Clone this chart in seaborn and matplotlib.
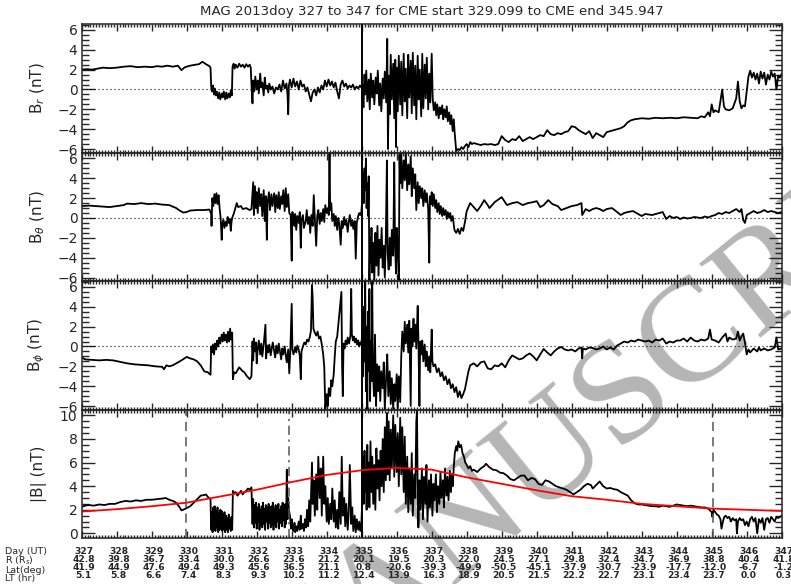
import matplotlib
matplotlib.use("Agg")
import matplotlib.pyplot as plt
import matplotlib.transforms as mtransforms
from matplotlib.ticker import MultipleLocator
import pandas as pd
import seaborn as sns

# ---------------------------------------------------------------- data
title = "MAG 2013doy 327 to 347 for CME start 329.099 to CME end 345.947"

# ephemeris rows printed under the time axis
tick_days = list(range(327, 348))
r_rs = [42.8, 39.8, 36.7, 33.4, 30.0, 26.6, 23.6, 21.2, 20.1, 19.5, 20.3,
        22.0, 24.5, 27.1, 29.8, 32.4, 34.7, 36.9, 38.8, 40.4, 41.8]
lat_deg = [41.9, 44.9, 47.6, 49.4, 49.3, 45.6, 36.5, 21.1, 0.8, -20.6, -39.3,
           -49.9, -50.5, -45.1, -37.9, -30.7, -23.9, -17.7, -12.0, -6.7, -1.2]
lt_hr = [5.1, 5.8, 6.6, 7.4, 8.3, 9.3, 10.2, 11.2, 12.4, 13.9, 16.3,
         18.9, 20.5, 21.5, 22.2, 22.7, 23.1, 23.4, 23.7, 0.0, 0.3]
row_names = ["Day (UT)", r"R (R$_s$)", "Lat(deg)", "LT (hr)"]

# event markers (day of year)
gap_day = 335.0
dashed_days = [329.97, 345.03]
dashdot_day = 332.93

# B_r (nT)
br_points = [
    (327.00, 2.0), (327.15, 2.05), (327.30, 2.0), (327.45, 2.1), (327.60, 2.2), (327.80, 2.15),
    (328.00, 2.2), (328.20, 2.3), (328.40, 2.35), (328.60, 2.25), (328.80, 2.3), (329.00, 2.25),
    (329.15, 2.35), (329.30, 2.3), (329.45, 2.4), (329.60, 2.3), (329.75, 2.4), (329.85, 1.95),
    (329.95, 2.25), (330.10, 2.4), (330.25, 2.5), (330.35, 2.55), (330.45, 2.8), (330.55, 2.55),
    (330.65, 2.35), (330.68, 2.2),
    (330.70, 0.3), (330.72, -0.2), (330.75, 0.4), (330.78, -0.5), (330.80, 0.1), (330.83, -0.6),
    (330.86, -0.2), (330.90, -0.9), (330.93, -0.3), (330.96, -1.0), (331.00, -0.4), (331.03, -0.8),
    (331.06, -0.2), (331.10, -1.0), (331.13, -0.3), (331.16, -0.9), (331.20, -0.4), (331.23, -0.8),
    (331.26, -0.1), (331.29, -0.6),
    (331.31, 2.3), (331.34, 2.6), (331.37, 2.1), (331.40, 2.5), (331.45, 2.2), (331.50, 2.6),
    (331.55, 2.3), (331.60, 2.5), (331.65, 2.2), (331.70, 2.55), (331.75, 2.3), (331.80, 2.5),
    (331.83, 2.2),
    (331.86, -0.3), (331.88, -1.4), (331.90, 0.9), (331.93, -0.2), (331.96, 1.3), (332.00, 0.0),
    (332.03, 0.9), (332.06, -0.4), (332.10, 1.6), (332.13, 0.2), (332.16, 0.7), (332.20, -0.6),
    (332.23, 1.2), (332.26, 0.1), (332.30, 0.4), (332.33, -0.3), (332.36, 0.6), (332.40, 0.0),
    (332.45, 0.3), (332.50, -0.4), (332.55, 0.2), (332.60, 0.0), (332.65, 0.5), (332.70, -0.2),
    (332.75, 0.9), (332.80, 0.1), (332.85, 0.6), (332.88, -0.5), (332.90, -2.5), (332.92, 0.4),
    (332.95, 1.0), (333.00, 0.2), (333.05, 1.1), (333.10, 0.3), (333.15, 0.8), (333.20, 0.0),
    (333.25, 0.9), (333.30, 0.3), (333.35, 0.5), (333.40, -0.2), (333.45, 0.2), (333.50, -0.5),
    (333.55, -1.2), (333.60, -0.3), (333.65, 0.0), (333.70, -0.6), (333.75, 0.2), (333.80, -0.3),
    (333.85, 0.4), (333.90, 0.0), (333.95, 0.9), (334.00, 0.3), (334.05, 1.0), (334.10, 0.4),
    (334.15, 0.8), (334.20, 0.2), (334.25, 0.7), (334.30, -0.2), (334.35, -0.9), (334.40, 0.5),
    (334.45, 0.9), (334.50, 0.3), (334.55, 0.6), (334.60, 0.1), (334.65, 0.4), (334.70, 0.2),
    (334.75, 0.5), (334.80, 0.0), (334.85, 0.3), (334.90, 0.1), (334.95, 0.4), (334.99, 0.2),
    (335.02, 0.5), (335.05, -1.8), (335.08, 1.5), (335.10, -0.5), (335.13, 1.9), (335.16, -1.2),
    (335.20, 1.0), (335.23, -2.0), (335.26, 1.6), (335.30, -0.8), (335.33, 0.9), (335.36, -1.5),
    (335.40, 1.2), (335.43, -0.4), (335.46, 1.9), (335.50, -1.6), (335.53, 0.6), (335.56, -2.2),
    (335.60, 1.1), (335.63, -0.9), (335.66, 1.8), (335.70, -1.3), (335.73, 5.1), (335.75, -6.0),
    (335.78, 1.4), (335.80, -2.5), (335.83, 3.5), (335.86, -1.0), (335.90, 2.6), (335.93, -2.9),
    (335.96, 3.0), (335.98, -5.8), (336.00, 2.2), (336.03, -2.2), (336.06, 3.4), (336.10, -1.5),
    (336.13, 2.8), (336.16, -2.6), (336.20, 3.6), (336.23, -1.2), (336.26, 2.1), (336.30, -2.9),
    (336.33, 3.5), (336.36, -0.8), (336.40, 2.9), (336.43, -2.4), (336.46, 3.7), (336.50, -1.6),
    (336.53, 2.4), (336.56, -3.0), (336.60, 3.4), (336.63, -1.0), (336.66, 2.0), (336.70, -2.7),
    (336.73, 3.6), (336.76, -1.9), (336.80, 2.5), (336.83, -0.9), (336.86, 3.2), (336.90, -2.0),
    (336.93, 1.6), (336.96, -1.3), (337.00, 3.6), (337.03, -1.0), (337.06, -2.1),
    (337.10, -1.3), (337.13, -2.6), (337.16, -1.5), (337.20, -2.9), (337.23, -1.8), (337.26, -2.5),
    (337.30, -1.6), (337.33, -3.0), (337.36, -2.0), (337.40, -2.8), (337.43, -1.7), (337.46, -3.2),
    (337.50, -2.3), (337.53, -3.5), (337.56, -2.6), (337.60, -4.2), (337.63, -3.0), (337.66, -4.5),
    (337.70, -6.2), (337.75, -6.0), (337.80, -6.1), (337.85, -5.8), (337.90, -6.0), (337.95, -5.7),
    (338.00, -5.5), (338.05, -5.8), (338.10, -5.3), (338.15, -5.5), (338.20, -5.4), (338.30, -5.5),
    (338.40, -5.6), (338.50, -5.5), (338.60, -5.55), (338.70, -5.5), (338.80, -5.6), (338.90, -5.5),
    (339.00, -4.7), (339.10, -5.1), (339.20, -5.3), (339.30, -5.0), (339.40, -5.1), (339.50, -4.7),
    (339.60, -5.2), (339.70, -5.0), (339.80, -4.8), (339.90, -5.0), (340.00, -4.8), (340.10, -4.6),
    (340.20, -4.7), (340.30, -4.1), (340.40, -4.5), (340.50, -4.6), (340.60, -4.4), (340.70, -4.5),
    (340.80, -4.3), (340.90, -4.2), (341.00, -3.7), (341.10, -3.8), (341.20, -4.1), (341.30, -4.3),
    (341.40, -4.5), (341.50, -4.2), (341.60, -4.9), (341.70, -4.4), (341.80, -4.6), (341.90, -4.8),
    (342.00, -4.3), (342.10, -4.2), (342.20, -4.1), (342.30, -4.0), (342.40, -3.9), (342.50, -3.7),
    (342.60, -3.3), (342.70, -3.1), (342.80, -3.0), (342.90, -2.95), (343.00, -2.9), (343.20, -2.95),
    (343.40, -2.85), (343.60, -2.9), (343.80, -2.85), (344.00, -2.9), (344.20, -2.8), (344.40, -2.85),
    (344.60, -2.9), (344.70, -2.7), (344.80, -2.8), (344.90, -2.3), (344.95, -2.7), (345.00, -1.5),
    (345.05, -2.3), (345.10, -2.1), (345.20, -2.3), (345.30, 0.0), (345.35, -1.7), (345.40, -2.0),
    (345.50, -2.1), (345.60, -1.9), (345.70, -0.9), (345.75, 0.8), (345.80, -1.2), (345.85, -1.9),
    (345.90, -1.6), (345.95, -1.7), (346.00, -0.2), (346.05, 1.3), (346.10, 1.9), (346.15, 1.2),
    (346.20, 1.7), (346.25, 1.0), (346.30, 1.6), (346.35, 0.6), (346.40, 1.8), (346.45, 1.1),
    (346.50, 1.7), (346.55, 0.5), (346.60, 1.5), (346.65, 1.0), (346.70, 1.8), (346.75, 1.3),
    (346.80, 1.6), (346.85, 0.0), (346.90, 1.4), (346.95, 1.2), (347.00, 1.6),
]

# B_theta (nT)
bt_points = [
    (327.00, 1.2), (327.20, 1.25), (327.40, 1.2), (327.60, 1.15), (327.80, 1.1), (328.00, 1.2),
    (328.20, 1.3), (328.30, 1.45), (328.50, 1.4), (328.70, 1.5), (328.90, 1.4), (329.10, 1.45),
    (329.30, 1.35), (329.50, 1.3), (329.70, 1.0), (329.80, 0.75), (329.90, 0.55), (330.00, 0.6),
    (330.10, 0.75), (330.30, 0.8), (330.50, 0.8), (330.65, 0.85),
    (330.70, 0.4), (330.71, -0.8), (330.73, 2.0), (330.76, 1.2), (330.79, 2.4), (330.82, 1.5),
    (330.85, 2.5), (330.88, 1.4), (330.91, 2.3), (330.94, 1.0), (330.97, 0.0), (331.00, -2.2),
    (331.02, -0.6), (331.05, -0.2), (331.08, -1.0), (331.11, -0.4), (331.14, -0.8), (331.17, 0.1),
    (331.20, -0.5), (331.23, -0.1), (331.26, -1.3), (331.28, -0.4), (331.30, 0.0), (331.35, 0.5),
    (331.43, 1.5), (331.47, 1.1), (331.55, 1.2), (331.60, 0.9), (331.70, 1.0), (331.80, 0.8),
    (331.85, 0.9),
    (331.90, 3.6), (331.92, 0.3), (331.95, 3.2), (331.98, 1.0), (332.00, 2.6), (332.03, 0.5),
    (332.06, 3.0), (332.10, 1.2), (332.13, 2.4), (332.16, 0.2), (332.20, 2.8), (332.23, -0.3),
    (332.26, 2.2), (332.29, -2.2), (332.31, 1.5), (332.35, 2.6), (332.38, 0.8), (332.42, 2.4),
    (332.45, 1.2), (332.50, 2.5), (332.53, 0.6), (332.56, 2.3), (332.60, 1.0), (332.63, 2.6),
    (332.66, 0.9), (332.70, 2.2), (332.73, 1.4), (332.76, 2.8), (332.80, 0.7), (332.83, 3.0),
    (332.86, 1.1), (332.90, 2.4), (332.93, 0.5), (332.97, 0.3), (333.00, -4.3), (333.02, 0.6),
    (333.05, 0.0), (333.08, -0.8), (333.10, 0.4), (333.13, -1.2), (333.16, 0.2), (333.20, -0.5),
    (333.23, 0.6), (333.26, -3.0), (333.28, -0.2), (333.32, 0.3), (333.35, -1.0), (333.40, -0.3),
    (333.43, 0.8), (333.46, -0.6), (333.50, 0.1), (333.53, -1.5), (333.56, 0.3), (333.60, -0.8),
    (333.63, 2.3), (333.66, 0.0), (333.70, -2.8), (333.73, 0.2), (333.76, 0.8), (333.80, -0.6),
    (333.83, 0.5), (333.86, -0.3), (333.90, 0.9), (333.93, -0.4), (333.96, 1.3), (334.00, 0.5),
    (334.03, 1.0), (334.06, 0.3), (334.08, 6.5), (334.10, 0.8), (334.13, 1.5), (334.16, -0.3),
    (334.20, 0.4), (334.23, -0.8), (334.26, 0.2), (334.30, -1.2), (334.33, 0.0), (334.36, -0.6),
    (334.40, -2.7), (334.43, -0.3), (334.46, -1.0), (334.50, 0.1), (334.53, -0.7), (334.56, -0.2),
    (334.60, -1.4), (334.63, -0.4), (334.66, 0.3), (334.70, -0.8), (334.73, -0.2), (334.76, -1.1),
    (334.80, -0.3), (334.83, -4.1), (334.86, -0.5), (334.90, 0.2), (334.93, 0.5), (334.96, 0.3),
    (334.99, 0.6),
    (335.02, 2.0), (335.04, 4.5), (335.06, 1.5), (335.08, 5.0), (335.10, 2.8), (335.12, 6.0),
    (335.14, 1.0), (335.16, 3.5), (335.18, 0.2), (335.20, 4.2), (335.22, -6.5), (335.24, -2.0),
    (335.26, -4.5), (335.28, -1.0), (335.30, -5.5), (335.33, -2.5), (335.36, -6.2), (335.39, -1.5),
    (335.42, -4.8), (335.45, -0.8), (335.48, -5.8), (335.51, -2.2), (335.54, -4.0), (335.57, -1.0),
    (335.60, -5.0), (335.63, -2.8), (335.66, -6.0), (335.69, -1.8), (335.72, 5.8), (335.74, -3.5),
    (335.77, -5.2), (335.80, -2.0), (335.83, -4.8), (335.86, -1.2), (335.90, -3.8), (335.93, 5.6),
    (335.95, -2.2), (335.98, -5.6), (336.00, -1.0), (336.03, -3.0), (336.06, -6.5), (336.08, 6.4),
    (336.10, 3.5), (336.13, 6.5), (336.16, 3.0), (336.20, 5.8), (336.23, 3.8), (336.26, 6.5),
    (336.30, 2.8), (336.33, 5.4), (336.36, 3.4), (336.40, 6.2), (336.43, 2.2), (336.46, 5.0),
    (336.50, 3.0), (336.53, 4.4), (336.56, 0.8), (336.60, 3.6), (336.63, 1.5), (336.66, 3.2),
    (336.70, 2.0), (336.73, 3.0), (336.76, 1.2), (336.80, 2.8), (336.83, 1.6), (336.86, 2.5),
    (336.90, 0.9), (336.93, -4.5), (336.95, 2.2), (336.98, 1.4), (337.00, 2.6), (337.03, 1.2),
    (337.06, 2.4), (337.10, 1.0), (337.13, 1.8), (337.16, 0.6), (337.20, 1.5), (337.23, 0.4),
    (337.26, 1.2), (337.30, 0.2), (337.33, 1.0), (337.36, 0.3), (337.40, 0.8), (337.43, -0.1),
    (337.46, 0.6), (337.50, 0.0), (337.53, 0.5), (337.56, -0.3), (337.60, 0.2), (337.65, -1.2),
    (337.70, -1.5), (337.75, -1.1), (337.80, -1.6), (337.85, -1.0), (337.90, -1.3), (337.95, -0.4),
    (338.00, 0.7), (338.10, 1.5), (338.20, 1.1), (338.30, 0.7), (338.40, 1.2), (338.50, 1.8),
    (338.60, 1.3), (338.65, 1.0), (338.80, 1.6), (339.00, 2.1), (339.15, 1.3), (339.30, 1.5),
    (339.45, 1.6), (339.60, 1.3), (339.75, 1.5), (339.90, 1.6), (340.00, 1.7), (340.10, 1.1),
    (340.20, 1.3), (340.33, 1.8), (340.45, 1.4), (340.60, 1.2), (340.70, 0.8), (340.85, 1.0),
    (341.00, 1.2), (341.15, 1.3), (341.28, 1.5), (341.30, 0.3), (341.40, 0.9), (341.50, 0.7),
    (341.60, 0.9), (341.70, 1.0), (341.80, 0.9), (341.90, 0.7), (342.00, 0.9), (342.15, 1.0),
    (342.30, 0.6), (342.40, 0.3), (342.50, 0.5), (342.60, 0.6), (342.75, 0.7), (342.90, 0.4),
    (343.00, 0.2), (343.10, 0.4), (343.30, 0.3), (343.50, 0.5), (343.60, 0.6), (343.70, -0.1),
    (343.80, 0.2), (343.90, 0.0), (344.00, 0.1), (344.10, -0.1), (344.20, 0.05), (344.30, -0.05),
    (344.40, 0.0), (344.50, 0.1), (344.60, 0.05), (344.70, 0.0), (344.80, 0.15), (344.90, 0.05),
    (345.00, 0.2), (345.10, 0.3), (345.20, 0.5), (345.30, 0.4), (345.40, 0.6), (345.50, 0.5),
    (345.60, 0.7), (345.70, 0.9), (345.80, 0.6), (345.85, 0.9), (345.90, -0.2), (345.95, -0.5),
    (346.00, 0.3), (346.10, 0.5), (346.20, 0.7), (346.30, 0.5), (346.40, 0.6), (346.50, 0.8),
    (346.60, 0.6), (346.70, 0.7), (346.80, 0.6), (346.90, 0.5), (347.00, 0.6),
]

# B_phi (nT)
bp_points = [
    (327.00, -1.1), (327.10, -1.3), (327.30, -1.35), (327.50, -1.4), (327.70, -1.35), (327.90, -1.4),
    (328.10, -1.55), (328.30, -1.7), (328.50, -1.8), (328.70, -1.85), (328.90, -1.9), (329.10, -2.0),
    (329.30, -2.05), (329.35, -2.3), (329.42, -1.9), (329.50, -2.0), (329.60, -1.9), (329.70, -1.7),
    (329.85, -1.4), (330.00, -1.05), (330.10, -1.2), (330.20, -1.3), (330.30, -1.5), (330.40, -1.9),
    (330.50, -2.5), (330.60, -2.6), (330.68, -2.85),
    (330.70, 0.0), (330.72, -0.6), (330.75, 0.2), (330.78, -0.8), (330.81, 0.3), (330.84, -0.3),
    (330.87, 0.6), (330.90, 0.0), (330.93, 0.9), (330.96, 0.3), (331.00, 1.2), (331.03, 0.5),
    (331.06, 1.4), (331.09, 0.6), (331.12, 1.2), (331.15, 0.4), (331.18, 1.5), (331.21, 0.5),
    (331.24, 1.8), (331.27, 0.7), (331.30, 1.4),
    (331.32, -3.3), (331.35, -2.6), (331.40, -2.7), (331.45, -2.4), (331.50, -2.1), (331.55, -2.3),
    (331.60, -2.5), (331.65, -2.6), (331.70, -2.9), (331.75, -3.1), (331.80, -3.3), (331.85, -3.0),
    (331.88, 0.5), (331.90, -1.4), (331.92, 0.8), (331.95, -0.5), (331.98, 0.4), (332.00, -1.7),
    (332.03, -0.2), (332.06, 0.6), (332.10, -0.8), (332.13, 0.3), (332.16, -1.0), (332.20, 0.2),
    (332.23, 1.4), (332.25, 2.2), (332.27, -1.2), (332.30, 0.1), (332.33, -0.6), (332.36, 0.2),
    (332.40, -0.9), (332.43, -0.2), (332.46, 0.4), (332.50, -0.5), (332.53, -1.1), (332.56, 0.1),
    (332.60, -0.7), (332.63, 0.3), (332.66, -0.4), (332.70, -1.3), (332.73, -0.2), (332.76, -0.8),
    (332.80, 0.0), (332.83, -0.9), (332.86, -1.6), (332.90, -0.3), (332.93, -2.7), (332.96, -0.5),
    (333.00, 4.3), (333.02, -0.3), (333.05, -0.8), (333.10, -0.1), (333.13, -0.6), (333.16, 0.1),
    (333.20, -0.3), (333.23, -0.9), (333.26, -3.3), (333.28, -0.5), (333.32, 0.0), (333.36, 0.4),
    (333.40, 0.2), (333.44, 0.7), (333.48, 0.5), (333.52, 1.0), (333.55, 1.6), (333.58, 6.2),
    (333.60, 4.8), (333.62, 1.8), (333.66, 1.4), (333.70, 1.1), (333.74, 1.5), (333.78, 0.8),
    (333.82, 1.0), (333.86, 0.2), (333.90, -0.8), (333.93, -2.0), (333.96, -6.3), (334.00, -4.8),
    (334.03, -6.0), (334.06, -4.2), (334.10, -5.0), (334.13, -3.4), (334.16, -4.0), (334.20, -2.8),
    (334.23, -1.0), (334.26, 0.5), (334.30, 1.0), (334.34, 2.5), (334.38, 4.0), (334.42, 5.5),
    (334.44, -2.0), (334.46, -5.0), (334.48, 0.3), (334.51, -0.2), (334.54, 0.6), (334.57, 0.2),
    (334.60, 0.9), (334.64, 0.3), (334.68, 1.2), (334.70, 5.8), (334.72, 1.2), (334.75, 0.6),
    (334.78, 1.0), (334.81, 0.4), (334.84, 0.8), (334.87, 0.2), (334.90, 0.6), (334.93, 0.0),
    (334.96, 0.4), (334.99, 0.2),
    (335.02, 1.5), (335.04, -3.0), (335.06, 4.0), (335.08, -1.5), (335.10, 6.6), (335.12, -4.5),
    (335.14, 2.0), (335.16, -6.3), (335.18, 3.5), (335.20, -2.5), (335.22, 5.8), (335.24, -5.5),
    (335.26, 0.5), (335.28, -3.5), (335.30, 6.6), (335.32, -2.0), (335.35, -5.0), (335.38, 1.2),
    (335.41, -6.0), (335.44, -1.8), (335.47, -4.5), (335.50, -2.0), (335.53, -5.5), (335.56, -2.5),
    (335.60, -4.2), (335.63, -1.6), (335.66, -6.3), (335.70, -3.0), (335.73, -0.8), (335.76, -5.0),
    (335.80, -2.5), (335.83, -5.8), (335.86, -3.2), (335.90, -6.3), (335.93, -3.8), (335.96, -5.5),
    (336.00, -2.8), (336.03, -6.3), (336.06, -3.0), (336.10, -5.6), (336.13, -1.0), (336.16, 1.5),
    (336.20, -0.5), (336.23, 2.5), (336.26, 0.3), (336.30, 2.2), (336.33, -0.6), (336.36, 2.6),
    (336.40, -6.0), (336.42, 1.8), (336.45, 0.0), (336.48, 2.8), (336.50, 0.5), (336.53, 2.2),
    (336.56, -0.2), (336.60, 4.1), (336.62, 0.8), (336.65, -6.0), (336.67, 0.5), (336.70, -0.8),
    (336.73, 0.6), (336.76, -1.5), (336.80, 0.2), (336.83, -2.0), (336.86, -0.5), (336.90, -2.4),
    (336.93, -1.0), (336.96, -2.6), (337.00, 1.7), (337.02, -1.5), (337.05, -2.0), (337.10, -1.8),
    (337.15, -2.6), (337.20, -2.2), (337.25, -3.0), (337.30, -2.6), (337.35, -3.4), (337.40, -3.0),
    (337.45, -3.8), (337.50, -3.3), (337.55, -4.2), (337.60, -3.8), (337.65, -4.6), (337.70, -4.1),
    (337.75, -5.1), (337.80, -4.5), (337.85, -5.2), (337.90, -4.8), (337.95, -4.3), (338.00, -3.4),
    (338.05, -2.5), (338.10, -1.9), (338.20, -1.7), (338.30, -2.0), (338.40, -1.6), (338.50, -1.5),
    (338.60, -2.2), (338.70, -2.3), (338.80, -1.9), (338.90, -2.0), (339.00, -1.7), (339.10, -2.1),
    (339.20, -1.4), (339.30, -0.9), (339.40, -1.1), (339.50, -1.3), (339.60, -1.2), (339.70, -0.9),
    (339.80, -0.7), (339.90, -1.0), (340.00, -1.4), (340.10, -0.8), (340.20, -0.25), (340.30, -0.6),
    (340.40, -0.9), (340.50, -0.5), (340.60, -0.2), (340.70, -0.05), (340.80, -0.3), (340.90, -0.4),
    (341.00, -0.3), (341.10, -0.5), (341.20, -0.2), (341.28, -0.1), (341.30, -1.2), (341.32, -0.2),
    (341.40, -0.3), (341.50, -0.1), (341.60, -0.15), (341.70, -0.3), (341.80, -0.2), (341.90, 0.0),
    (342.00, -0.3), (342.10, -0.1), (342.20, -0.3), (342.30, 0.1), (342.40, 0.3), (342.50, 0.5),
    (342.60, 0.4), (342.70, 0.6), (342.80, 0.5), (342.90, 0.7), (343.00, 0.6), (343.10, 0.5),
    (343.20, 0.6), (343.30, 0.4), (343.40, 0.7), (343.50, 0.6), (343.60, 0.8), (343.70, 0.3),
    (343.80, 0.5), (343.90, 0.4), (344.00, 0.6), (344.10, 0.6), (344.20, 0.8), (344.30, 0.5),
    (344.40, 0.9), (344.50, 0.6), (344.60, 0.5), (344.70, 0.7), (344.80, 0.6), (344.90, 0.8),
    (344.95, 1.7), (345.00, 0.7), (345.10, 0.6), (345.20, 0.4), (345.30, 0.9), (345.40, 1.3),
    (345.45, 0.5), (345.50, 0.9), (345.60, 0.7), (345.70, 0.8), (345.75, 1.5), (345.80, 0.6),
    (345.85, 1.0), (345.90, 1.3), (345.95, 0.4), (346.00, -0.8), (346.05, -0.3), (346.10, -0.6),
    (346.20, -0.2), (346.30, -0.5), (346.35, -0.1), (346.40, -0.4), (346.50, -0.2), (346.60, -0.4),
    (346.70, -0.3), (346.80, -0.1), (346.85, 0.9), (346.90, -0.3), (347.00, -0.2),
]

# |B| (nT)
bmag_points = [
    (327.00, 2.25), (327.10, 2.35), (327.20, 2.4), (327.35, 2.35), (327.50, 2.45), (327.65, 2.4),
    (327.80, 2.5), (327.95, 2.5), (328.10, 2.65), (328.25, 2.75), (328.40, 2.7), (328.55, 2.8),
    (328.70, 2.75), (328.85, 2.85), (329.00, 2.85), (329.15, 2.9), (329.30, 2.95), (329.40, 3.0),
    (329.50, 2.85), (329.60, 2.75), (329.70, 2.6), (329.80, 2.2), (329.85, 1.95), (329.90, 2.0),
    (330.00, 2.15), (330.10, 2.3), (330.20, 2.6), (330.30, 2.9), (330.40, 3.2), (330.50, 3.25),
    (330.55, 3.3), (330.60, 3.1), (330.68, 2.9),
    (330.70, 0.3), (330.72, 1.8), (330.74, 0.1), (330.76, 2.2), (330.78, 0.4), (330.80, 2.3),
    (330.82, 0.2), (330.84, 1.9), (330.86, 0.5), (330.88, 2.2), (330.90, 0.1), (330.92, 1.7),
    (330.94, 0.3), (330.96, 2.0), (330.98, 0.6), (331.00, 1.9), (331.02, 0.2), (331.04, 1.6),
    (331.06, 0.4), (331.08, 1.8), (331.10, 0.1), (331.12, 1.5), (331.14, 0.3), (331.16, 1.3),
    (331.18, 0.1), (331.20, 1.6), (331.22, 0.4), (331.24, 1.2), (331.26, 0.2), (331.28, 1.4),
    (331.30, 0.3),
    (331.32, 3.6), (331.36, 3.4), (331.40, 3.5), (331.45, 3.2), (331.50, 3.4), (331.55, 3.6),
    (331.60, 3.3), (331.65, 3.5), (331.70, 3.6), (331.75, 3.8), (331.80, 3.7), (331.85, 3.9),
    (331.88, 0.8), (331.90, 2.9), (331.92, 0.5), (331.94, 2.4), (331.96, 0.9), (331.98, 2.6),
    (332.00, 0.4), (332.02, 2.2), (332.04, 1.0), (332.06, 2.5), (332.08, 0.3), (332.10, 2.0),
    (332.12, 0.7), (332.14, 2.3), (332.16, 0.5), (332.18, 2.6), (332.20, 0.8), (332.22, 2.1),
    (332.24, 0.3), (332.26, 2.4), (332.28, 1.0), (332.30, 2.2), (332.32, 0.4), (332.34, 2.5),
    (332.36, 0.9), (332.38, 2.0), (332.40, 0.5), (332.42, 2.3), (332.44, 0.7), (332.46, 2.6),
    (332.48, 0.3), (332.50, 2.1), (332.52, 0.8), (332.54, 2.4), (332.56, 0.5), (332.58, 2.2),
    (332.60, 1.0), (332.62, 2.5), (332.64, 0.4), (332.66, 2.0), (332.68, 0.9), (332.70, 2.3),
    (332.72, 0.6), (332.74, 2.6), (332.76, 1.1), (332.78, 2.2), (332.80, 0.5), (332.82, 2.5),
    (332.84, 0.8), (332.86, 5.4), (332.88, 1.2), (332.90, 3.0), (332.92, 2.0), (332.95, 1.5),
    (332.98, 0.4), (333.00, 1.2), (333.02, 0.5),
    (333.05, 0.2), (333.08, 0.9), (333.10, 0.1), (333.13, 0.6), (333.16, 0.2), (333.20, 1.0),
    (333.23, 0.3), (333.26, 1.5), (333.28, 0.4), (333.32, 0.8), (333.35, 0.2), (333.38, 1.2),
    (333.41, 0.5), (333.44, 2.0), (333.47, 0.6), (333.50, 2.8), (333.53, 1.0), (333.56, 4.0),
    (333.58, 6.0), (333.60, 2.5), (333.63, 4.5), (333.66, 1.5), (333.70, 5.0), (333.73, 2.0),
    (333.76, 6.5), (333.80, 3.0), (333.83, 5.5), (333.86, 1.5), (333.90, 6.5), (333.93, 2.5),
    (333.96, 4.0), (334.00, 1.0), (334.03, 3.0), (334.06, 0.8), (334.10, 2.5), (334.13, 1.2),
    (334.16, 3.8), (334.20, 1.0), (334.23, 2.8), (334.26, 0.5), (334.30, 2.0), (334.33, 0.4),
    (334.36, 3.5), (334.40, 0.8), (334.43, 6.5), (334.46, 1.5), (334.50, 3.0), (334.53, 0.6),
    (334.56, 2.5), (334.60, 0.3), (334.63, 1.8), (334.66, 5.8), (334.70, 0.8), (334.73, 2.2),
    (334.76, 0.2), (334.80, 1.5), (334.83, 0.1), (334.86, 1.2), (334.90, 0.3), (334.93, 1.0),
    (334.96, 0.2), (334.99, 0.8),
    (335.02, 3.0), (335.04, 6.5), (335.06, 2.5), (335.08, 7.0), (335.10, 3.5), (335.12, 5.5),
    (335.14, 2.0), (335.16, 7.5), (335.18, 3.0), (335.20, 6.0), (335.22, 2.2), (335.25, 7.8),
    (335.28, 3.5), (335.30, 6.5), (335.33, 2.5), (335.36, 5.8), (335.39, 2.0), (335.42, 7.2),
    (335.45, 3.8), (335.48, 6.2), (335.51, 2.8), (335.54, 7.0), (335.57, 4.0), (335.60, 8.0),
    (335.63, 3.5), (335.66, 9.0), (335.69, 4.5), (335.72, 10.2), (335.74, 5.0), (335.77, 9.5),
    (335.80, 4.5), (335.83, 8.8), (335.86, 5.5), (335.90, 10.0), (335.93, 4.8), (335.96, 9.2),
    (336.00, 5.2), (336.03, 8.5), (336.06, 4.0), (336.10, 9.8), (336.13, 5.0), (336.16, 9.0),
    (336.20, 3.5), (336.23, 8.2), (336.26, 2.5), (336.30, 6.5), (336.33, 1.8), (336.36, 5.5),
    (336.40, 2.5), (336.43, 6.8), (336.46, 1.5), (336.50, 5.0), (336.53, 3.0), (336.56, 9.5),
    (336.58, 10.4), (336.60, 3.5), (336.62, 0.5), (336.65, 4.5), (336.68, 2.0), (336.72, 5.5),
    (336.75, 1.2), (336.78, 4.8), (336.82, 2.5), (336.85, 5.8), (336.88, 1.0), (336.92, 4.5),
    (336.95, 2.2), (336.98, 5.0), (337.02, 1.5), (337.05, 4.2), (337.08, 2.8), (337.12, 5.0),
    (337.15, 1.8), (337.18, 4.0), (337.22, 2.5), (337.25, 5.2), (337.28, 3.0), (337.32, 4.5),
    (337.35, 2.2), (337.38, 5.5), (337.42, 3.2), (337.45, 4.8), (337.48, 2.8), (337.52, 5.3),
    (337.55, 3.5), (337.58, 5.0), (337.60, 4.0), (337.63, 5.6), (337.66, 6.8), (337.70, 7.4),
    (337.73, 7.0), (337.76, 7.8), (337.80, 7.3), (337.84, 7.5), (337.88, 6.8), (337.92, 6.5),
    (337.96, 6.0), (338.00, 5.8), (338.05, 5.5), (338.10, 5.7), (338.15, 5.3), (338.20, 5.4),
    (338.30, 5.2), (338.40, 5.5), (338.50, 5.7), (338.55, 5.9), (338.65, 5.6), (338.75, 5.4),
    (338.85, 5.35), (338.95, 5.15), (339.05, 5.1), (339.15, 4.9), (339.25, 4.6), (339.35, 4.5),
    (339.45, 4.7), (339.55, 4.9), (339.65, 4.9), (339.75, 4.5), (339.85, 4.7), (339.95, 4.6),
    (340.05, 4.2), (340.15, 4.1), (340.25, 4.5), (340.35, 4.4), (340.45, 4.2), (340.55, 4.0),
    (340.65, 3.9), (340.75, 3.8), (340.85, 3.7), (340.95, 3.5), (341.05, 3.3), (341.15, 3.5),
    (341.25, 3.7), (341.35, 4.0), (341.45, 4.2), (341.55, 4.1), (341.60, 3.8), (341.70, 4.1),
    (341.80, 4.4), (341.90, 4.0), (342.00, 3.8), (342.10, 3.85), (342.20, 3.75), (342.30, 3.7),
    (342.40, 3.5), (342.50, 3.35), (342.60, 3.2), (342.70, 2.8), (342.80, 2.55), (342.90, 2.45),
    (343.00, 2.45), (343.10, 2.4), (343.20, 2.35), (343.30, 2.3), (343.40, 2.3), (343.50, 2.25),
    (343.60, 2.35), (343.70, 2.3), (343.80, 2.25), (343.90, 2.35), (344.00, 2.45), (344.10, 2.4),
    (344.20, 2.35), (344.30, 2.3), (344.40, 2.35), (344.50, 2.3), (344.60, 2.25), (344.70, 2.2),
    (344.80, 2.2), (344.90, 2.1), (345.00, 1.8), (345.02, 1.4), (345.05, 2.0), (345.10, 1.8),
    (345.15, 1.6), (345.20, 1.5), (345.25, 1.2), (345.28, 0.4), (345.32, 1.0), (345.36, 1.4),
    (345.40, 1.5), (345.45, 1.3), (345.50, 1.4), (345.55, 1.0), (345.60, 1.3), (345.65, 1.1),
    (345.70, 1.2), (345.72, 0.0), (345.75, 1.0), (345.80, 1.3), (345.85, 1.1), (345.90, 1.2),
    (345.95, 0.7), (346.00, 1.0), (346.05, 0.6), (346.10, 1.2), (346.15, 1.4), (346.20, 1.0),
    (346.25, 1.3), (346.30, 0.0), (346.35, 1.2), (346.40, 0.9), (346.45, 1.3), (346.50, 0.3),
    (346.55, 1.2), (346.60, 1.3), (346.65, 0.9), (346.70, 1.4), (346.75, 1.2), (346.80, 1.0),
    (346.85, 1.4), (346.90, 1.3), (346.95, 1.4), (347.00, 1.5),
]

# smooth reference |B| curve (red), one reading per day
model_days = list(range(327, 348))
model_bmag = [1.85, 2.05, 2.3, 2.6, 3.15, 3.7, 4.35, 4.95, 5.35, 5.55, 5.4,
              4.75, 4.2, 3.65, 3.15, 2.85, 2.5, 2.3, 2.1, 2.0, 1.9]

# ---------------------------------------------------------------- style
sns.set_style("ticks")
plt.rcParams["font.family"] = ["DejaVu Sans"]
plt.rcParams["axes.linewidth"] = 1.1

W, H = 791, 584
fig = plt.figure(figsize=(W / 100, H / 100), dpi=100, facecolor="white")

x_left, x_right = 81.7, 781.7
edges = [24.0, 152.5, 281.0, 409.5, 537.5]


def make_axes(i):
    top, bot = edges[i], edges[i + 1]
    ax = fig.add_axes([x_left / W, 1 - bot / H, (x_right - x_left) / W, (bot - top) / H])
    ax.set_facecolor("none")
    return ax


axes = [make_axes(i) for i in range(4)]

series = [
    (br_points, r"B$_r$ (nT)"),
    (bt_points, r"B$_\theta$ (nT)"),
    (bp_points, r"B$_\phi$ (nT)"),
    (bmag_points, "|B| (nT)"),
]

for i, (ax, (pts, label)) in enumerate(zip(axes, series)):
    df = pd.DataFrame(pts, columns=["day", "value"])
    sns.lineplot(data=df, x="day", y="value", ax=ax, color="black",
                 linewidth=1.3, estimator=None, sort=False)
    ax.axvline(gap_day, color="black", linewidth=1.4)
    ax.set_xlim(327, 347)
    if i < 3:
        ax.set_ylim(-6.35, 6.6)
        ax.axhline(0, color="black", linewidth=0.8, linestyle=(0, (1, 2.6)))
    else:
        ax.set_ylim(-0.35, 10.5)
    ax.yaxis.set_major_locator(MultipleLocator(2))
    ax.yaxis.set_minor_locator(MultipleLocator(0.5))
    ax.xaxis.set_major_locator(MultipleLocator(1))
    ax.xaxis.set_minor_locator(MultipleLocator(1 / 12))
    ax.tick_params(which="both", direction="in", top=True, right=True,
                   bottom=True, left=True, labelbottom=False, width=1.0,
                   labelsize=10, pad=3)
    ax.tick_params(axis="y", which="major", length=9.5)
    ax.tick_params(axis="y", which="minor", length=5)
    ax.tick_params(axis="x", which="major", length=5)
    ax.tick_params(axis="x", which="minor", length=2.5)
    ax.set_xlabel("")
    ax.set_ylabel(label, fontsize=11)
    ax.yaxis.set_label_coords(-0.049, 0.5)

ax4 = axes[3]
model_df = pd.DataFrame({"day": model_days, "bmag": model_bmag})
sns.lineplot(data=model_df, x="day", y="bmag", ax=ax4, color="red",
             linewidth=1.3, estimator=None, sort=False)
for d in dashed_days:
    ax4.axvline(d, color="#555555", linewidth=1.1, linestyle=(0, (6, 4)))
ax4.axvline(dashdot_day, color="#555555", linewidth=1.1, linestyle=(0, (6, 3, 1.5, 3)))
ax4.set_xlabel("")
ax4.set_ylabel("|B| (nT)", fontsize=11)

# title
fig.text((x_left + x_right) / 2 / W, 1 - 12 / H, title, ha="center", va="center", fontsize=9.6)

# multi-row time axis annotation, one text block per column
block_top = 546.5
blend = mtransforms.blended_transform_factory(ax4.transData, fig.transFigure)
fig.text(5 / W, 1 - block_top / H, "\n".join(row_names), ha="left", va="top",
         fontsize=6.8, linespacing=0.86)
for k, d in enumerate(tick_days):
    column = "\n".join([f"{d}", f"{r_rs[k]:.1f}", f"{lat_deg[k]:.1f}", f"{lt_hr[k]:.1f}"])
    ax4.text(d + 0.06, 1 - block_top / H, column, transform=blend, ha="center",
             va="top", multialignment="center", fontsize=6.6, linespacing=0.86,
             family=["Liberation Sans Narrow", "DejaVu Sans"], fontweight="bold",
             clip_on=False)

# diagonal watermark behind the panels
fig.text(326 / W, 1 - 690 / H, "ACCEPTED MANUSCRIPT", rotation=39,
         rotation_mode="anchor", ha="center", va="baseline", fontsize=106,
         family=["Liberation Serif", "DejaVu Serif"], color="#b5b5b5", zorder=-5)

fig.savefig("out.png", dpi=100, facecolor="white")
